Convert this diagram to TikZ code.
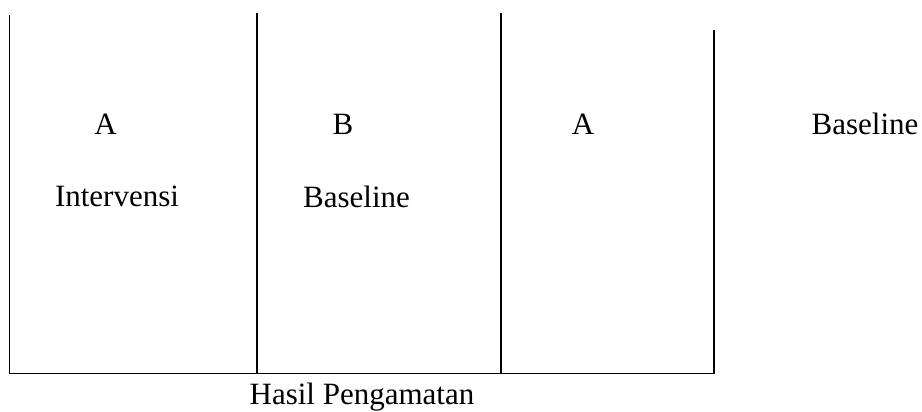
\documentclass[tikz,border=0pt]{standalone}
\usepackage{fontspec}
\setmainfont{Liberation Serif}
\begin{document}
\begin{tikzpicture}[x=1pt,y=-1pt,
  lbl/.style={inner sep=0pt,font=\fontsize{31}{34}\selectfont},
  frame/.style={line width=1.8pt}]
\useasboundingbox (0,0) rectangle (922,412);
% frame lines
\coordinate (bl) at (9.5,373.5);
\coordinate (br) at (714,373.5);
\draw[frame] (9.5,15) -- (bl) -- (br) -- (714,30);
\draw[frame] (257,13) -- (257,373.5);
\draw[frame] (501,13) -- (501,373.5);
% labels
\node[lbl] (a1) at (105.5,124) {A};
\node[lbl] (b1) at (343,124) {B};
\node[lbl] (a2) at (583,124) {A};
\node[lbl] (bs1) at (865,124) {Baseline};
\node[lbl] (iv) at (117,196.5) {Intervensi};
\node[lbl] (bs2) at (356.5,196.5) {Baseline};
\node[lbl] (hp) at (362,397) {Hasil Pengamatan};
\end{tikzpicture}
\end{document}
